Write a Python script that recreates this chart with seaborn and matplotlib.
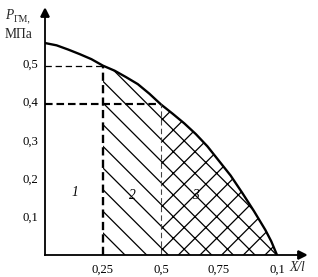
import numpy as np
import matplotlib
matplotlib.use("Agg")
import matplotlib.pyplot as plt
import seaborn as sns

# Data
x_rel = [0.0, 0.05, 0.1, 0.15, 0.2, 0.25, 0.3, 0.35, 0.4, 0.45, 0.5, 0.55, 0.6, 0.65,
         0.7, 0.75, 0.8, 0.85, 0.9, 0.95, 0.975, 1.0]
p_gm = [0.552, 0.546, 0.535, 0.523, 0.51, 0.493, 0.48, 0.463, 0.445, 0.42, 0.392, 0.368,
        0.343, 0.315, 0.283, 0.245, 0.207, 0.162, 0.115, 0.065, 0.036, 0.0]
y_ticks = [0.1, 0.2, 0.3, 0.4, 0.5]
y_tick_labels = ["0,1", "0,2", "0,3", "0,4", "0,5"]
x_ticks = [0.25, 0.5, 0.75, 1.0]
x_tick_labels = ["0,25", "0,5", "0,75", "0,1"]
zone_labels = ["1", "2", "3"]
zone_pos_x = [0.13, 0.375, 0.647]
zone_pos_y = [0.164, 0.156, 0.156]

sns.set_theme(style="white")
plt.rcParams['font.family'] = ['Liberation Serif', 'DejaVu Serif']
plt.rcParams['hatch.linewidth'] = 0.7

DPI = 130
W, H = 318, 277
fig = plt.figure(figsize=(W / DPI, H / DPI), dpi=DPI)
ax = fig.add_axes([45 / W, 22 / H, (302 - 45) / W, (255 - 13) / H])

x = np.array(x_rel)
y = np.array(p_gm)

m2 = (x >= 0.25) & (x <= 0.5)
m3 = (x >= 0.5)
ax.fill_between(x[m2], 0, y[m2], facecolor='none', edgecolor='black', hatch='\\\\', linewidth=0)
ax.fill_between(x[m3], 0, y[m3], facecolor='none', edgecolor='black', hatch='xx', linewidth=0)

sns.lineplot(x=x_rel, y=p_gm, color='black', linewidth=1.3, ax=ax)

y025 = p_gm[x_rel.index(0.25)]
y05 = p_gm[x_rel.index(0.5)]
ax.plot([0.25, 0.25], [0, y025], color='black', lw=1.3, dashes=(3.5, 1.8))
ax.plot([0, 0.25], [y025, y025], color='black', lw=0.7, dashes=(5, 3))
ax.plot([0, 0.5], [y05, y05], color='black', lw=1.2, dashes=(3.5, 1.8))
ax.plot([0.5, 0.5], [0, y05], color='#444444', lw=0.6, dashes=(5, 3))

ax.set_xlim(0, 257 / 232)
ax.set_ylim(0, 242 / 384)

for s in ['top', 'right']:
    ax.spines[s].set_visible(False)
for s in ['left', 'bottom']:
    ax.spines[s].set_color('black')
    ax.spines[s].set_linewidth(1.0)

ax.plot(1, 0, '>', color='black', ms=4, transform=ax.get_yaxis_transform(), clip_on=False)
ax.plot(0, 1, '^', color='black', ms=4, transform=ax.get_xaxis_transform(), clip_on=False)

ax.set_yticks(y_ticks)
ax.set_yticklabels(y_tick_labels)
ax.set_xticks(x_ticks)
ax.set_xticklabels(x_tick_labels)
ax.set_xticks([0.125], minor=True)
ax.tick_params(axis='both', which='both', direction='inout', length=4, width=0.8,
               color='black', labelsize=7, labelcolor='black', pad=1.5)
ax.tick_params(axis='x', which='minor', direction='in', length=2.5)
ax.tick_params(axis='x', pad=3)
ax.grid(False)

for lab, zx, zy in zip(zone_labels, zone_pos_x, zone_pos_y):
    ax.text(zx, zy, lab, fontsize=7.5, style='italic', ha='center', va='center', color='black')

# Axis labels
fig.text(5 / W, 1 - 19 / H, "P", fontsize=7.5, style='italic', ha='left', va='baseline')
fig.text(14 / W, 1 - 21 / H, "ГМ,", fontsize=5.5, ha='left', va='baseline')
fig.text(5 / W, 1 - 38 / H, "МПа", fontsize=7.5, ha='left', va='baseline')
fig.text(289 / W, 1 - 271 / H, "X/l", fontsize=7.5, style='italic', ha='left', va='baseline')

fig.savefig("out.png", dpi=DPI)
